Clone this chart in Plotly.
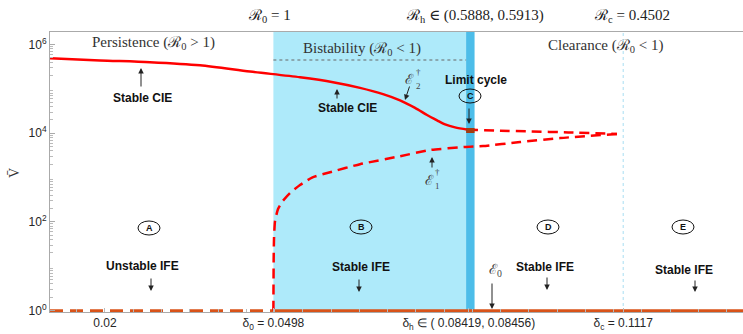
import plotly.graph_objects as go

# ---------------- data ----------------
# stable coexistence equilibrium (upper branch, solid)
cie_delta = [0.01027, 0.01912, 0.02796, 0.03681, 0.04566, 0.05451, 0.06035, 0.06513,
             0.06920, 0.07221, 0.07487, 0.07699, 0.07876, 0.08018, 0.08195, 0.08420]
cie_V = [4.9e5, 4.37e5, 3.98e5, 3.39e5, 2.45e5, 1.82e5, 1.41e5, 1.05e5,
         7.59e4, 5.5e4, 3.72e4, 2.57e4, 1.95e4, 1.58e4, 1.35e4, 1.2e4]
# unstable continuation of the upper branch (dashed)
e2u_delta = [0.08420, 0.09000, 0.09500, 0.10200, 0.11060]
e2u_V = [1.2e4, 1.14e4, 1.1e4, 1.04e4, 9.6e3]
# lower unstable branch E1 (dashed)
e1_delta = [0.04980, 0.04985, 0.04991, 0.05009, 0.05062, 0.05133, 0.05274, 0.05451,
            0.05664, 0.05982, 0.06513, 0.07221, 0.07752, 0.08389, 0.08690, 0.09345,
            0.10053, 0.11060]
e1_V = [1, 14.8, 42, 105, 195, 282, 447, 676, 1000, 1318, 2000, 3020, 4170, 4900,
        5130, 6310, 7760, 9600]
# infection-free equilibrium
ife_unst_delta = [0.01027, 0.0498]
ife_unst_V = [1, 1]
ife_st_delta = [0.0498, 0.1329]
ife_st_V = [1, 1]
# limit cycle marker
lc_delta = [0.0839, 0.0854]
lc_V = [1.15e4, 1.15e4]

delta0, deltah_mid, deltac = 0.0498, 0.08438, 0.1117
x_tickvals = [0.02, delta0, deltah_mid, deltac]
x_ticktext = ["0.02", "δ<sub>0</sub> = 0.0498", "δ<sub>h</sub> ∈ ( 0.08419, 0.08456)",
              "δ<sub>c</sub> = 0.1117"]
y_tickvals = [1, 1e2, 1e4, 1e6]
y_ticktext = ["10<sup>0</sup>", "10<sup>2</sup>", "10<sup>4</sup>", "10<sup>6</sup>"]

# ---------------- figure ----------------
L, T, W, H = 50, 32, 693, 280
def px(x):
    return (x - L) / W
def py(y):
    return (T + H - y) / H

RED = "#ff0000"
ORANGE = "#d95319"
fig = go.Figure()
fig.add_trace(go.Scatter(x=ife_unst_delta, y=ife_unst_V, mode="lines",
                         line=dict(color=ORANGE, width=3, dash="13px,7px")))
fig.add_trace(go.Scatter(x=ife_st_delta, y=ife_st_V, mode="lines",
                         line=dict(color=ORANGE, width=3)))
fig.add_trace(go.Scatter(x=cie_delta, y=cie_V, mode="lines",
                         line=dict(color=RED, width=2.5, shape="spline", smoothing=0.8)))
fig.add_trace(go.Scatter(x=e2u_delta, y=e2u_V, mode="lines",
                         line=dict(color=RED, width=2.5, dash="10px,6px", shape="spline",
                                   smoothing=0.6)))
fig.add_trace(go.Scatter(x=e1_delta, y=e1_V, mode="lines",
                         line=dict(color=RED, width=2.5, dash="10px,6px", shape="spline",
                                   smoothing=0.5)))
fig.add_trace(go.Scatter(x=lc_delta, y=lc_V, mode="lines", line=dict(color="#a33c10", width=5)))

shapes = [
    dict(type="rect", xref="x", yref="paper", x0=delta0, x1=lc_delta[0], y0=0, y1=1,
         fillcolor="#aeeafa", line=dict(width=0), layer="below"),
    dict(type="rect", xref="x", yref="paper", x0=lc_delta[0], x1=lc_delta[1], y0=0, y1=1,
         fillcolor="#4dbde9", line=dict(width=0), layer="below"),
    dict(type="line", xref="x", yref="paper", x0=delta0, x1=lc_delta[0], y0=py(60), y1=py(60),
         line=dict(color="#666", width=1, dash="dot"), layer="below"),
    dict(type="line", xref="x", yref="paper", x0=deltac, x1=deltac, y0=0, y1=1,
         line=dict(color="#a8def2", width=1, dash="dot"), layer="below"),
]
circles = [("A", 149, 228), ("B", 361, 227), ("C", 470, 96), ("D", 548, 227), ("E", 683, 227)]
for lab, cx, cy in circles:
    shapes.append(dict(type="circle", xref="paper", yref="paper",
                       x0=px(cx - 11), x1=px(cx + 11), y0=py(cy + 7), y1=py(cy - 7),
                       line=dict(color="#111", width=1)))

ann = []
def text(t, x, y, size=12, bold=False, family="Arial, Liberation Sans", color="#111", angle=0):
    ann.append(dict(text=("<b>%s</b>" % t) if bold else t, x=px(x), y=py(y), xref="paper",
                    yref="paper", showarrow=False, xanchor="center", yanchor="middle",
                    textangle=angle, font=dict(size=size, family=family, color=color)))
def arrow(hx, hy, tx, ty):
    ann.append(dict(text="", x=px(hx), y=py(hy), xref="paper", yref="paper", showarrow=True,
                    ax=tx - hx, ay=ty - hy, arrowhead=2, arrowsize=1.1, arrowwidth=1,
                    arrowcolor="#222"))

SERIF = "Liberation Serif, DejaVu Serif, serif"
text("ℛ<sub>0</sub> = 1", 269, 16, 15, family=SERIF, color="#222")
text("ℛ<sub>h</sub> ∈ (0.5888, 0.5913)", 475, 16, 15, family=SERIF, color="#222")
text("ℛ<sub>c</sub> = 0.4502", 632, 16, 15, family=SERIF, color="#222")
text("Persistence (ℛ<sub>0</sub> &gt; 1)", 153, 43, 15, family=SERIF, color="#333")
text("Bistability (ℛ<sub>0</sub> &lt; 1)", 362, 49, 15, family=SERIF, color="#333")
text("Clearance (ℛ<sub>0</sub> &lt; 1)", 605, 46, 15, family=SERIF, color="#333")

text("Stable CIE", 142, 98, 12, True)
text("Stable CIE", 347, 108, 12, True)
text("Limit cycle", 476, 80, 12, True)
text("Unstable IFE", 142, 266, 12, True)
text("Stable IFE", 361, 267, 12, True)
text("Stable IFE", 545, 267, 12, True)
text("Stable IFE", 684, 270, 12, True)
text("ℰ<sub>0</sub>", 495, 270, 14, family=SERIF, color="#444")
# stacked dagger / subscript labels
for (ex, ey, sub) in [(410, 80, "2"), (429, 180, "1")]:
    text("ℰ", ex, ey, 14, family=SERIF, color="#444")
    text("†", ex + 8, ey - 8, 9, family=SERIF, color="#444")
    text(sub, ex + 8, ey + 6, 9, family=SERIF, color="#444")
for lab, cx, cy in circles:
    text(lab, cx, cy, 9, True)
text("V̄", 14, 173, 14, family=SERIF, color="#333", angle=-90)

arrow(141, 68, 141, 88)
arrow(337, 89, 337, 100)
arrow(405, 100, 410, 85)
arrow(469, 124, 469, 107)
arrow(432, 157, 432, 169)
arrow(151, 291, 151, 277)
arrow(359, 292, 359, 278)
arrow(492, 309, 492, 282)
arrow(547, 290, 547, 276)
arrow(695, 292, 695, 279)

minor_y = [m * 10 ** k for k in range(0, 7) for m in range(2, 10)]

fig.update_layout(
    width=743, height=334, margin=dict(l=L, r=0, t=T, b=334 - T - H, pad=0, autoexpand=False),
    plot_bgcolor="white", paper_bgcolor="white", showlegend=False,
    shapes=shapes, annotations=ann,
    xaxis=dict(range=[0.01027, 0.1329], tickvals=x_tickvals, ticktext=x_ticktext,
               automargin=False,
               showgrid=False, zeroline=False, showline=True, linecolor="#aaaaaa", linewidth=1,
               mirror=True, ticks="inside", ticklen=4, tickcolor="#bbbbbb",
               tickfont=dict(family="Arial, Liberation Sans", size=12, color="#262626"),
               minor=dict(ticks="inside", ticklen=3, tickcolor="#bbbbbb", dtick=0.005, tick0=0)),
    yaxis=dict(type="log", range=[-0.03, 6.28], tickvals=y_tickvals, ticktext=y_ticktext,
               automargin=False,
               showgrid=False, zeroline=False, showline=True, linecolor="#aaaaaa", linewidth=1,
               ticks="inside", ticklen=5, tickcolor="#aaaaaa",
               tickfont=dict(family="Arial, Liberation Sans", size=12, color="#262626"),
               minor=dict(ticks="inside", ticklen=3, tickcolor="#bbbbbb", tickmode="array",
                          tickvals=minor_y)),
)
fig.write_html("out.html", config={"displayModeBar": False},
               post_script="document.body.style.margin='0';document.body.style.overflow='hidden';")
